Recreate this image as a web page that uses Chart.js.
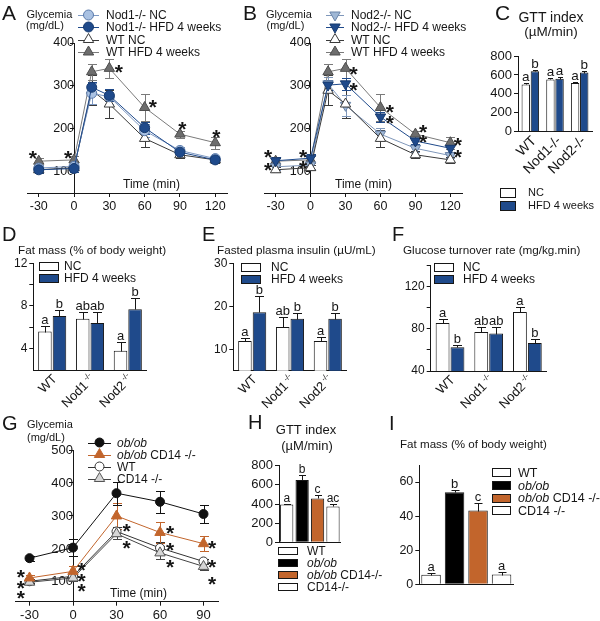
<!DOCTYPE html>
<html>
<head>
<meta charset="utf-8">
<script src="https://cdn.jsdelivr.net/npm/chart.js"></script>
<style>
  html, body { margin: 0; padding: 0; background: #fff; }
  #fig { position: relative; width: 600px; height: 621px; overflow: hidden; font-family: "Liberation Sans", Arial, Helvetica, sans-serif; color: #161616; }
  #fig canvas { position: absolute; left: 0; top: 0; }
  .t { position: absolute; white-space: nowrap; line-height: 1; }
</style>
</head>
<body>
<div id="fig"></div>
<script>
// ---------- data ----------
// A / B : glucose tolerance test, mg/dL
const minutesAB = [-30, 0, 15, 30, 60, 90, 120];
const timeTicksAB = [-30, 0, 30, 60, 90, 120];
const glyTicksAB = [100, 200, 300, 400];
const wtNC = [105, 110, 290, 258, 178, 140, 128];
const wtNCsem = [6, 6, 35, 32, 20, 8, 7];
const wtHFD = [125, 128, 333, 341, 250, 188, 168];
const wtHFDsem = [8, 8, 18, 22, 32, 8, 14];
const nod1NC = [109, 113, 283, 275, 196, 150, 131];
const nod1NCsem = [8, 8, 25, 18, 15, 7, 6];
const nod1HFD = [105, 108, 297, 278, 203, 146, 128];
const nod1HFDsem = [7, 7, 12, 14, 14, 6, 6];
const nod2NC = [112, 116, 305, 255, 188, 155, 138];
const nod2NCsem = [7, 8, 15, 25, 14, 8, 6];
const nod2HFD = [126, 132, 302, 305, 228, 172, 155];
const nod2HFDsem = [8, 9, 12, 14, 12, 8, 8];
// significance stars [minutes, mg/dL]
const starsA = [[-35, 144], [-5, 144], [38, 344], [67, 263], [92, 212], [121, 193]];
const starsB = [[-36.5, 146], [-36.5, 116], [-6.5, 146], [-6.5, 121], [37, 340], [37, 302],
                [68, 251], [68, 226], [96.5, 205], [96.5, 181], [126.5, 174], [126.5, 146]];

// C : GTT index (µM/min)
const gttGenotypes = ['WT', 'Nod1-/-', 'Nod2-/-'];
const gttTicks = [0, 200, 400, 600, 800];
const gttNC = [500, 552, 515];
const gttNCsem = [15, 18, 12];
const gttHFD = [638, 560, 625];
const gttHFDsem = [10, 22, 15];
const gttNCgroup = ['a', 'a', 'a'];
const gttHFDgroup = ['b', 'a', 'b'];

// D / E / F
const genotypes = ['WT', 'Nod1', 'Nod2'];
const knockout = ['', '-/-', '-/-'];
const dietLabels = ['NC', 'HFD 4 weeks'];
const fatTicks = [4, 6, 8, 10, 12];
const fatTickLabels = [4, 8, 12];
const fatNC = [5.6, 6.8, 3.8];
const fatNCsem = [0.5, 0.6, 0.8];
const fatHFD = [7.05, 6.4, 7.7];
const fatHFDsem = [0.55, 1.0, 1.07];
const fatNCgroup = ['a', 'ab', 'a'];
const fatHFDgroup = ['b', 'ab', 'b'];

const insulinTicks = [10, 20, 30];
const insulinNC = [11.9, 15.2, 11.9];
const insulinNCsem = [0.6, 2.2, 1.0];
const insulinHFD = [18.6, 17.1, 17.1];
const insulinHFDsem = [3.9, 1.4, 1.4];
const insulinNCgroup = ['a', 'ab', 'a'];
const insulinHFDgroup = ['b', 'b', 'b'];

const turnoverTicks = [40, 60, 80, 100, 120, 140];
const turnoverTickLabels = [40, 80, 120];
const turnoverNC = [85.2, 76.9, 95.6];
const turnoverNCsem = [3.8, 4.5, 4.5];
const turnoverHFD = [62.5, 75.3, 66.5];
const turnoverHFDsem = [2, 6.5, 4];
const turnoverNCgroup = ['a', 'ab', 'a'];
const turnoverHFDgroup = ['b', 'ab', 'b'];

// G : ob/ob glycemia
const minutesG = [-30, 0, 30, 60, 90];
const timeTicksG = [-30, 0, 30, 60, 90];
const glyTicksG = [100, 200, 300, 400, 500];
const obob = [172, 204, 369, 343, 306];
const obobSem = [8, 25, 35, 33, 27];
const obobCD14 = [112, 132, 300, 250, 216];
const obobCD14Sem = [8, 15, 40, 33, 22];
const wtG = [102, 117, 253, 203, 162];
const wtGSem = [6, 10, 15, 18, 8];
const cd14 = [99, 112, 246, 188, 147];
const cd14Sem = [6, 10, 15, 20, 10];
const starsG = [[-36, 132], [-36, 97], [-36, 67], [6, 152], [6, 119], [6, 87], [37, 270], [37, 220],
                [67, 263], [67, 213], [67, 162], [96, 218], [96, 162], [96, 109]];

// H / I
const gttMiceLegend = ['WT', 'ob/ob', 'ob/ob CD14-/-', 'CD14-/-'];
const fatMiceLegend = ['WT', 'ob/ob', 'ob/ob CD14 -/-', 'CD14 -/-'];
const gttOb = [395, 650, 458, 375];
const gttObSem = [8, 50, 40, 25];
const gttObGroup = ['a', 'b', 'c', 'ac'];
const fatObTicks = [0, 10, 20, 30, 40, 50, 60, 70];
const fatObTickLabels = [0, 20, 40, 60];
const fatOb = [5.6, 54, 43.3, 5.7];
const fatObSem = [0.8, 1.2, 4.3, 1.4];
const fatObGroup = ['a', 'b', 'c', 'a'];

// ---------- styles ----------
const FONT = '"Liberation Sans", Arial, Helvetica, sans-serif';
const INK = '#161616';
const BLUE = '#1f4a8b';
const ORANGE = '#c2652c';
const mouseColors = ['#ffffff', '#000000', ORANGE, '#ffffff'];

const sNod1NC = { shape: 'circle', r: 5, fill: '#a9c1e2', edge: '#5b7bab', line: '#7d98c2' };
const sNod1HFD = { shape: 'circle', r: 5, fill: BLUE, edge: '#173a6e', line: BLUE };
const sWtNC = { shape: 'triangle', r: 6, fill: '#ffffff', edge: '#3a3a3a', line: '#3a3a3a' };
const sWtHFD = { shape: 'triangle', r: 6, fill: '#6d6d6d', edge: '#4d4d4d', line: '#7a7a7a' };
const sNod2NC = { shape: 'triangle', rot: 180, r: 6, fill: '#9fb7d5', edge: '#6a84a8', line: '#7f97ba' };
const sNod2HFD = { shape: 'triangle', rot: 180, r: 6, fill: BLUE, edge: '#173a6e', line: BLUE };
const sObob = { shape: 'circle', r: 4.5, fill: '#111111', edge: '#111111', line: '#111111' };
const sObobCD14 = { shape: 'triangle', r: 6, fill: ORANGE, edge: ORANGE, line: ORANGE };
const sWtG = { shape: 'circle', r: 4.5, fill: '#ffffff', edge: '#333333', line: '#333333' };
const sCD14 = { shape: 'triangle', r: 6, fill: '#d6d6d6', edge: '#555555', line: '#444444' };

Chart.defaults.font.family = FONT;
Chart.defaults.color = INK;
Chart.defaults.animation = false;
Chart.defaults.responsive = false;
Chart.defaults.devicePixelRatio = 1;
Chart.defaults.events = [];
Chart.defaults.plugins.legend.display = false;
Chart.defaults.plugins.tooltip.enabled = false;

const fig = document.getElementById('fig');
const extrasByCanvas = {};

// ---------- drawing helpers for the plugin ----------
function drawMarker(ctx, shape, rot, r, x, y, fill, edge) {
  ctx.beginPath();
  if (shape === 'circle') {
    ctx.arc(x, y, r, 0, Math.PI * 2);
  } else {
    let a = rot * Math.PI / 180;
    for (let k = 0; k < 3; k++) {
      const px = x + Math.sin(a) * r, py = y - Math.cos(a) * r;
      if (k) ctx.lineTo(px, py); else ctx.moveTo(px, py);
      a += Math.PI * 2 / 3;
    }
    ctx.closePath();
  }
  ctx.fillStyle = fill;
  ctx.fill();
  ctx.lineWidth = 1;
  ctx.strokeStyle = edge;
  ctx.stroke();
}

function richText(ctx, text, x, y, size) {
  const parts = text.startsWith('ob/ob') ? [['ob/ob', 'italic '], [text.slice(5), '']] : [[text, '']];
  for (const [t, st] of parts) {
    ctx.font = st + size + 'px ' + FONT;
    ctx.fillText(t, x, y);
    x += ctx.measureText(t).width;
  }
}

function drawErrors(chart, ex, under) {
  const ctx = chart.ctx, ys = chart.scales.y;
  for (const e of ex.errors || []) {
    if (!!e.under !== under) continue;
    const ds = chart.data.datasets[e.ds];
    const meta = chart.getDatasetMeta(e.ds);
    ctx.save();
    ctx.lineWidth = 1;
    ctx.strokeStyle = e.color || ds.borderColor;
    meta.data.forEach((el, i) => {
      const raw = ds.data[i];
      const v = typeof raw === 'object' ? raw.y : raw;
      const s = e.sem[i];
      const x = Math.round(el.x) + 0.5;
      const top = Math.round(ys.getPixelForValue(v + s)) + 0.5;
      const bot = Math.round(ys.getPixelForValue(e.upOnly ? v : v - s)) + 0.5;
      ctx.beginPath();
      ctx.moveTo(x, bot); ctx.lineTo(x, top);
      ctx.moveTo(x - e.cap / 2, top); ctx.lineTo(x + e.cap / 2, top);
      if (!e.upOnly) { ctx.moveTo(x - e.cap / 2, bot); ctx.lineTo(x + e.cap / 2, bot); }
      ctx.stroke();
      if (e.letters) {
        ctx.fillStyle = INK;
        ctx.font = e.letterSize + 'px ' + FONT;
        ctx.textAlign = 'center';
        ctx.textBaseline = 'alphabetic';
        ctx.fillText(e.letters[i], el.x, top - 3);
      }
    });
    ctx.restore();
  }
}

function drawStars(chart, ex) {
  if (!ex.stars) return;
  const ctx = chart.ctx, xs = chart.scales.x, ys = chart.scales.y, size = 21;
  ctx.save();
  ctx.fillStyle = INK;
  ctx.font = 'bold ' + size + 'px ' + FONT;
  ctx.textAlign = 'center';
  ctx.textBaseline = 'alphabetic';
  for (const [t, v] of ex.stars) ctx.fillText('*', xs.getPixelForValue(t), ys.getPixelForValue(v) + 0.58 * size);
  ctx.restore();
}

function drawLegend(chart, ex) {
  const L = ex.legend;
  if (!L) return;
  const ctx = chart.ctx;
  ctx.save();
  L.items.forEach((it, k) => {
    const y = L.rows[k];
    if (L.kind === 'line') {
      const ds = chart.data.datasets[it.ds];
      ctx.strokeStyle = ds.borderColor;
      ctx.lineWidth = 1;
      ctx.beginPath();
      ctx.moveTo(L.x1, Math.round(y) + 0.5); ctx.lineTo(L.x2, Math.round(y) + 0.5);
      ctx.stroke();
      drawMarker(ctx, ds.pointStyle, ds.pointRotation || 0, ds.pointRadius, (L.x1 + L.x2) / 2, y,
                 ds.pointBackgroundColor, ds.pointBorderColor);
    } else {
      const bx = Math.round(L.x1) + 0.5, by = Math.round(y - L.h / 2) + 0.5;
      ctx.fillStyle = it.fill;
      ctx.fillRect(bx, by, Math.round(L.x2 - L.x1), Math.round(L.h));
      ctx.strokeStyle = INK;
      ctx.lineWidth = 1;
      ctx.strokeRect(bx, by, Math.round(L.x2 - L.x1), Math.round(L.h));
    }
    ctx.fillStyle = INK;
    ctx.textAlign = 'left';
    ctx.textBaseline = 'alphabetic';
    richText(ctx, it.text, L.textX, y + 0.36 * L.size, L.size);
  });
  ctx.restore();
}

function drawCats(chart, ex) {
  const C = ex.cats;
  if (!C) return;
  const ctx = chart.ctx, xs = chart.scales.x, base = chart.chartArea.bottom;
  ctx.save();
  ctx.fillStyle = INK;
  ctx.textBaseline = 'middle';
  ctx.textAlign = 'right';
  chart.data.labels.forEach((lab, i) => {
    ctx.save();
    ctx.translate(xs.getPixelForValue(i) + C.dx, base + C.dy);
    ctx.rotate(-Math.PI / 4);
    let x = 0;
    const sup = C.sup ? C.sup[i] : '';
    if (sup) {
      ctx.font = C.supSize + 'px ' + FONT;
      ctx.fillText(sup, 0, -C.supRise);
      x = -ctx.measureText(sup).width - 2;
    }
    ctx.font = C.size + 'px ' + FONT;
    ctx.fillText(lab, x, 0);
    ctx.restore();
  });
  ctx.restore();
}

Chart.register({
  id: 'extras',
  beforeDatasetsDraw(chart) {
    const ex = extrasByCanvas[chart.canvas.id];
    if (ex) drawErrors(chart, ex, true);
  },
  afterDatasetsDraw(chart) {
    const ex = extrasByCanvas[chart.canvas.id];
    if (!ex) return;
    drawErrors(chart, ex, false);
    drawStars(chart, ex);
    drawLegend(chart, ex);
    drawCats(chart, ex);
  }
});

// ---------- axis / dataset builders ----------
function numAxis(o) {
  return {
    type: 'linear', min: o.min, max: o.max, position: o.position,
    afterBuildTicks: s => { s.ticks = o.ticks.map(v => ({ value: v })); },
    afterFit: s => { if (o.fit !== undefined) { if (s.isHorizontal()) s.height = o.fit; else s.width = o.fit; } },
    grid: { drawOnChartArea: false, tickLength: 4, tickColor: INK, tickWidth: 1 },
    border: { color: INK, width: 1 },
    ticks: { padding: 2, color: INK, font: { size: o.font },
             callback: v => (!o.show || o.show.includes(v)) ? String(v) : '' }
  };
}
function catAxis() {
  return {
    type: 'category', grid: { display: false }, ticks: { display: false },
    border: { color: INK, width: 1 }, afterFit: s => { s.height = 0; }
  };
}
function lineSet(xs, ys, st) {
  return {
    data: xs.map((t, i) => ({ x: t, y: ys[i] })), borderColor: st.line, borderWidth: 1,
    pointStyle: st.shape, pointRotation: st.rot || 0, pointRadius: st.r,
    pointBackgroundColor: st.fill, pointBorderColor: st.edge, pointBorderWidth: 1, tension: 0, clip: false
  };
}
function barSet(values, fill, cat, bar) {
  return { data: values, backgroundColor: fill, borderColor: INK, borderWidth: 1,
           borderSkipped: 'start', categoryPercentage: cat, barPercentage: bar };
}
function makeChart(id, type, data, scales, area, yw, xh, ex) {
  const c = document.createElement('canvas');
  c.id = id; c.width = 600; c.height = 621;
  fig.appendChild(c);
  extrasByCanvas[id] = ex;
  const padding = { left: area.x1 - yw, top: area.y1, right: 600 - area.x2, bottom: 621 - area.y2 - xh };
  return new Chart(c, { type, data, options: { layout: { padding }, scales } });
}

// ---------- A ----------
makeChart('chartA', 'line', {
  datasets: [lineSet(minutesAB, nod1HFD, sNod1HFD), lineSet(minutesAB, nod1NC, sNod1NC),
             lineSet(minutesAB, wtHFD, sWtHFD), lineSet(minutesAB, wtNC, sWtNC)]
}, {
  x: numAxis({ min: -40, max: 130, position: 'bottom', ticks: timeTicksAB, fit: 24, font: 12.5 }),
  y: numAxis({ min: 51, max: 400, position: { x: 0 }, ticks: glyTicksAB, font: 12.5 })
}, { x1: 27, x2: 227, y1: 43, y2: 193 }, 0, 24, {
  errors: [{ ds: 3, sem: wtNCsem, cap: 9, under: true }, { ds: 2, sem: wtHFDsem, cap: 9, under: true },
           { ds: 1, sem: nod1NCsem, cap: 9, under: true }, { ds: 0, sem: nod1HFDsem, cap: 9, under: true }],
  stars: starsA,
  legend: { kind: 'line', x1: 78, x2: 99, textX: 106, size: 12, rows: [15, 27, 39.5, 52],
            items: [{ text: 'Nod1-/- NC', ds: 1 }, { text: 'Nod1-/- HFD 4 weeks', ds: 0 },
                    { text: 'WT NC', ds: 3 }, { text: 'WT HFD 4 weeks', ds: 2 }] }
});

// ---------- B ----------
makeChart('chartB', 'line', {
  datasets: [lineSet(minutesAB, nod2HFD, sNod2HFD), lineSet(minutesAB, wtNC, sWtNC),
             lineSet(minutesAB, nod2NC, sNod2NC), lineSet(minutesAB, wtHFD, sWtHFD)]
}, {
  x: numAxis({ min: -40, max: 130, position: 'bottom', ticks: timeTicksAB, fit: 24, font: 12.5 }),
  y: numAxis({ min: 51, max: 400, position: { x: 0 }, ticks: glyTicksAB, font: 12.5 })
}, { x1: 264, x2: 462, y1: 43, y2: 193 }, 0, 24, {
  errors: [{ ds: 1, sem: wtNCsem, cap: 9, under: true }, { ds: 3, sem: wtHFDsem, cap: 9, under: true },
           { ds: 2, sem: nod2NCsem, cap: 9, under: true }, { ds: 0, sem: nod2HFDsem, cap: 9, under: true }],
  stars: starsB,
  legend: { kind: 'line', x1: 326, x2: 344, textX: 351, size: 12, rows: [15, 27, 39.5, 52],
            items: [{ text: 'Nod2-/- NC', ds: 2 }, { text: 'Nod2-/- HFD 4 weeks', ds: 0 },
                    { text: 'WT NC', ds: 1 }, { text: 'WT HFD 4 weeks', ds: 3 }] }
});

// ---------- C ----------
makeChart('chartC', 'bar', {
  labels: gttGenotypes,
  datasets: [barSet(gttNC, '#ffffff', 0.74, 0.92), barSet(gttHFD, BLUE, 0.74, 0.92)]
}, {
  x: catAxis(),
  y: numAxis({ min: 0, max: 800, position: 'left', ticks: gttTicks, fit: 34, font: 13 })
}, { x1: 518, x2: 592, y1: 56, y2: 131.7 }, 34, 0, {
  errors: [{ ds: 0, sem: gttNCsem, cap: 5, upOnly: true, color: INK, letters: gttNCgroup, letterSize: 13.5 },
           { ds: 1, sem: gttHFDsem, cap: 5, upOnly: true, color: INK, letters: gttHFDgroup, letterSize: 13.5 }],
  cats: { size: 14, dx: 4, dy: 7 },
  legend: { kind: 'box', x1: 500, x2: 515, h: 8.5, textX: 528, size: 11, rows: [192.5, 205.5],
            items: [{ text: dietLabels[0], fill: '#ffffff' }, { text: dietLabels[1], fill: BLUE }] }
});

// ---------- D / E / F ----------
function dietBars(id, nc, ncSem, hfd, hfdSem, ncLet, hfdLet, yOpt, area, legendX, textX, rows) {
  makeChart(id, 'bar', {
    labels: genotypes,
    datasets: [barSet(nc, '#ffffff', 0.77, 0.93), barSet(hfd, BLUE, 0.77, 0.93)]
  }, { x: catAxis(), y: numAxis(yOpt) }, area, 32, 0, {
    errors: [{ ds: 0, sem: ncSem, cap: 9, upOnly: true, color: INK, letters: ncLet, letterSize: 13 },
             { ds: 1, sem: hfdSem, cap: 9, upOnly: true, color: INK, letters: hfdLet, letterSize: 13 }],
    cats: { size: 13, supSize: 8, supRise: 4, sup: knockout, dx: 3, dy: 7 },
    legend: { kind: 'box', x1: legendX, x2: legendX + 19, h: 8, textX, size: 12, rows,
              items: [{ text: dietLabels[0], fill: '#ffffff' }, { text: dietLabels[1], fill: BLUE }] }
  });
}
dietBars('chartD', fatNC, fatNCsem, fatHFD, fatHFDsem, fatNCgroup, fatHFDgroup,
  { min: 2, max: 12, position: 'left', ticks: fatTicks, show: fatTickLabels, fit: 32, font: 12 },
  { x1: 33.3, x2: 146.7, y1: 263.3, y2: 370 }, 39, 64, [266, 278]);
dietBars('chartE', insulinNC, insulinNCsem, insulinHFD, insulinHFDsem, insulinNCgroup, insulinHFDgroup,
  { min: 5, max: 30, position: 'left', ticks: insulinTicks, fit: 32, font: 12 },
  { x1: 233.3, x2: 346.7, y1: 263.3, y2: 370.7 }, 241, 271, [267, 279]);
dietBars('chartF', turnoverNC, turnoverNCsem, turnoverHFD, turnoverHFDsem, turnoverNCgroup, turnoverHFDgroup,
  { min: 40, max: 140, position: 'left', ticks: turnoverTicks, show: turnoverTickLabels, fit: 32, font: 12 },
  { x1: 430.7, x2: 546.7, y1: 265, y2: 371 }, 434, 463, [267, 279]);

// ---------- G ----------
makeChart('chartG', 'line', {
  datasets: [lineSet(minutesG, obob, sObob), lineSet(minutesG, obobCD14, sObobCD14),
             lineSet(minutesG, cd14, sCD14), lineSet(minutesG, wtG, sWtG)]
}, {
  x: numAxis({ min: -40, max: 100, position: 'bottom', ticks: timeTicksG, fit: 19, font: 13 }),
  y: numAxis({ min: 40, max: 500, position: { x: 0 }, ticks: glyTicksG, font: 13 })
}, { x1: 15, x2: 218, y1: 450, y2: 601.7 }, 0, 19, {
  errors: [{ ds: 3, sem: wtGSem, cap: 9, under: true }, { ds: 2, sem: cd14Sem, cap: 9, under: true },
           { ds: 1, sem: obobCD14Sem, cap: 9, under: true }, { ds: 0, sem: obobSem, cap: 9, under: true }],
  stars: starsG,
  legend: { kind: 'line', x1: 88, x2: 111, textX: 117, size: 12, rows: [442.5, 454.5, 466.5, 478.5],
            items: [{ text: 'ob/ob', ds: 0 }, { text: 'ob/ob CD14 -/-', ds: 1 },
                    { text: 'WT', ds: 3 }, { text: 'CD14 -/-', ds: 2 }] }
});

// ---------- H ----------
makeChart('chartH', 'bar', {
  labels: gttMiceLegend,
  datasets: [barSet(gttOb, mouseColors, 1, 0.86)]
}, {
  x: catAxis(),
  y: numAxis({ min: 0, max: 800, position: 'left', ticks: gttTicks, fit: 34, font: 13 })
}, { x1: 279, x2: 340.7, y1: 465.7, y2: 542.3 }, 34, 0, {
  errors: [{ ds: 0, sem: gttObSem, cap: 7, upOnly: true, color: INK, letters: gttObGroup, letterSize: 12 }],
  legend: { kind: 'box', x1: 278, x2: 297, h: 7, textX: 307, size: 12, rows: [550.5, 562.5, 574.5, 586.5],
            items: gttMiceLegend.map((t, i) => ({ text: t, fill: mouseColors[i] })) }
});

// ---------- I ----------
makeChart('chartI', 'bar', {
  labels: fatMiceLegend,
  datasets: [barSet(fatOb, mouseColors, 1, 0.83)]
}, {
  x: catAxis(),
  y: numAxis({ min: 0, max: 70, position: 'left', ticks: fatObTicks, show: fatObTickLabels, fit: 32, font: 12.5 })
}, { x1: 419.3, x2: 513.3, y1: 465, y2: 584.3 }, 32, 0, {
  errors: [{ ds: 0, sem: fatObSem, cap: 8, upOnly: true, color: INK, letters: fatObGroup, letterSize: 13 }],
  legend: { kind: 'box', x1: 492, x2: 510, h: 8, textX: 518, size: 12.5, rows: [472, 485, 497.5, 510],
            items: fatMiceLegend.map((t, i) => ({ text: t, fill: mouseColors[i] })) }
});

// ---------- panel letters and titles (text, left, baseline, size, centred) ----------
const texts = [
  ['A', 2, 20, 21], ['B', 243, 20, 21], ['C', 495, 20, 21],
  ['D', 2, 240.5, 20], ['E', 202, 240.5, 20], ['F', 392, 240.5, 20],
  ['G', 2, 430, 20], ['H', 248, 429, 20], ['I', 389, 430, 20],
  ['Glycemia', 26.5, 18.5, 11], ['(mg/dL)', 26, 29.5, 11],
  ['Glycemia', 266, 18.5, 11], ['(mg/dL)', 266.5, 29.5, 11],
  ['GTT index', 551, 21.5, 14, true], ['(µM/min)', 551, 36.5, 13.5, true],
  ['Time (min)', 123, 188.3, 12], ['Time (min)', 335, 188.3, 12],
  ['Fat mass (% of body weight)', 18, 253.5, 11.7],
  ['Fasted plasma insulin (µU/mL)', 217, 253.5, 11.7],
  ['Glucose turnover rate (mg/kg.min)', 403, 253.5, 11.7],
  ['Glycemia', 27, 428.3, 11], ['(mg/dL)', 27, 441.5, 11],
  ['Time (min)', 110, 596.7, 12],
  ['GTT index', 306, 434, 13, true], ['(µM/min)', 307, 450, 13, true],
  ['Fat mass (% of body weight)', 400, 448, 11.6]
];
for (const [txt, x, base, size, centred] of texts) {
  const d = document.createElement('div');
  d.className = 't';
  d.textContent = txt;
  d.style.fontSize = size + 'px';
  d.style.left = x + 'px';
  d.style.top = (base - 0.8465 * size) + 'px';
  if (centred) d.style.transform = 'translateX(-50%)';
  fig.appendChild(d);
}
</script>
</body>
</html>
